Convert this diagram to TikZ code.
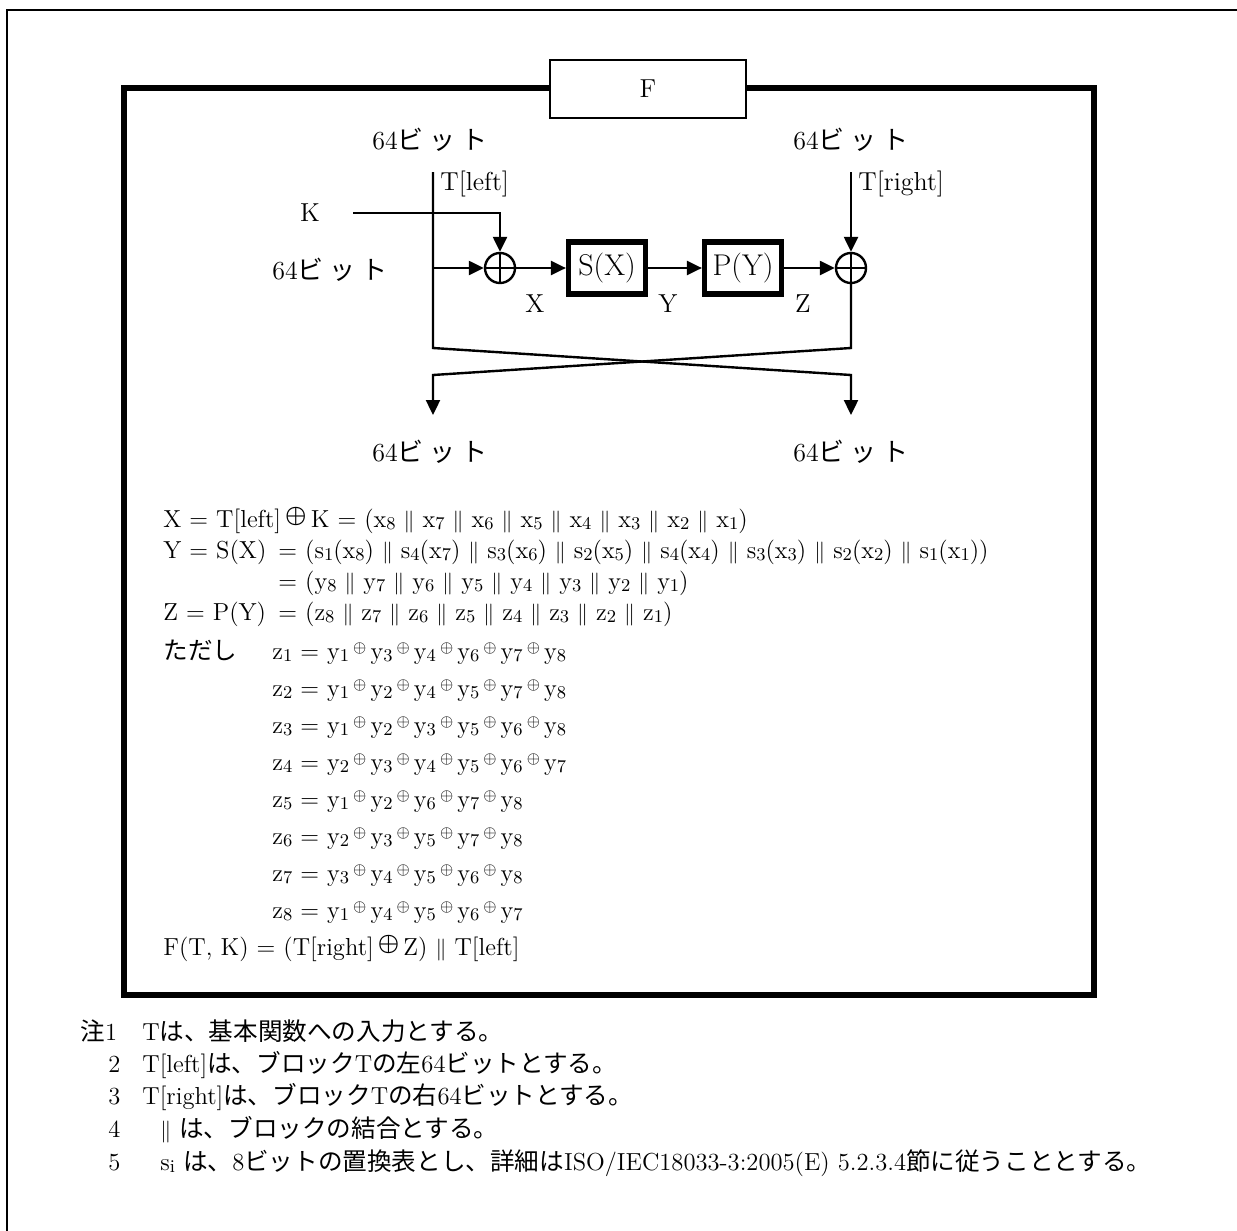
\documentclass[tikz,border=0pt]{standalone}
\usepackage{fontspec}
\usepackage{amsmath}
\newfontfamily\jp{Noto Sans CJK JP}
\usetikzlibrary{arrows.meta}
\newcommand{\mylo}[1]{\raisebox{-0.25ex}{\fontsize{9}{9}\selectfont #1}}
\newcommand{\mycat}{\ {\fontsize{10.5}{10.5}\selectfont$\|$}\ }
\newcommand{\myxo}{\,\raisebox{0.6ex}{\fontsize{8.5}{8.5}\selectfont$\oplus$}\,}
\newcommand{\mybigxo}{\,\raisebox{0.45ex}{$\boldsymbol{\oplus}$}\,}
\newcommand{\bits}{64{\jp ビ\hspace{3pt}ッ\hspace{3pt}ト}}
\begin{document}
\begin{tikzpicture}[x=0.5pt,y=-0.5pt,
  every node/.style={inner sep=0pt, font=\fontsize{12.3}{14}\selectfont},
  dl/.style={font=\fontsize{13}{15}\selectfont},
  wire/.style={line width=1.2pt},
  arr/.style={wire,-{Triangle[length=7.5pt,width=7pt]}},
  blk/.style={draw, line width=2.6pt, minimum width=38.5pt, minimum height=26pt, font=\fontsize{15}{17}\selectfont},
  xorn/.style={circle, draw, line width=1.2pt, minimum size=15pt,
    path picture={\draw[line width=1.2pt] (path picture bounding box.north) -- (path picture bounding box.south)
      (path picture bounding box.west) -- (path picture bounding box.east);}},
  lbl/.style={anchor=base west}]
\useasboundingbox (0,0) rectangle (1237,1231);
% outer frame (cut at right and bottom)
\draw[line width=1pt] (7,1231) -- (7,10) -- (1237,10);
% inner thick frame
\draw[line width=3pt] (124,88) rectangle (1094,995);
\node[draw, fill=white, line width=1pt, minimum width=98pt, minimum height=29pt, dl] (F) at (648,89) {F};

% diagram
\node[dl] (bl) at (430,140) {\bits};
\node[dl] (br) at (851,140) {\bits};
\coordinate (TL) at (433,172);
\coordinate (TR) at (851,172);
\node[dl, anchor=west] (tleft) at (440,184) {T[left]};
\node[dl, anchor=west] (tright) at (858,184) {T[right]};
\node[dl] (K) at (310,213) {K};
\coordinate (K0) at (353,213);
\node[dl] (bm) at (330,270) {\bits};
\node[xorn] (x1) at (500,268) {};
\node[xorn] (x2) at (851,268) {};
\node[blk] (S) at (607,268) {S(X)};
\node[blk] (P) at (743,268) {P(Y)};
\coordinate (J) at (433,268);
\node[dl] (lX) at (535,304) {X};
\node[dl] (lY) at (668,304) {Y};
\node[dl] (lZ) at (803,304) {Z};
\coordinate (L1) at (433,348);
\coordinate (L2) at (851,375);
\coordinate (L3) at (851,415);
\coordinate (R1) at (851,348);
\coordinate (R2) at (433,375);
\coordinate (R3) at (433,415);
\node[dl] (ol) at (430,452) {\bits};
\node[dl] (or) at (851,452) {\bits};

\draw[arr] (TL) -- (L1) -- (L2) -- (L3);
\draw[arr] (x2.south) -- (R1) -- (R2) -- (R3);
\draw[arr] (K0) -| (x1.north);
\draw[arr] (J) -- (x1.west);
\draw[arr] (x1) -- (S);
\draw[arr] (S) -- (P);
\draw[arr] (P) -- (x2);
\draw[arr] (TR) -- (x2.north);

% equations
\node[lbl] (e1) at (163,527) {X = T[left]\mybigxo K = (x\mylo8\mycat x\mylo7\mycat x\mylo6\mycat x\mylo5\mycat x\mylo4\mycat x\mylo3\mycat x\mylo2\mycat x\mylo1)};
\node[lbl] (e2a) at (163,558) {Y = S(X)};
\node[lbl] (e2b) at (278,558) {= (s\mylo1(x\mylo8)\mycat s\mylo4(x\mylo7)\mycat s\mylo3(x\mylo6)\mycat s\mylo2(x\mylo5)\mycat s\mylo4(x\mylo4)\mycat s\mylo3(x\mylo3)\mycat s\mylo2(x\mylo2)\mycat s\mylo1(x\mylo1))};
\node[lbl] (e3) at (278,589) {= (y\mylo8\mycat y\mylo7\mycat y\mylo6\mycat y\mylo5\mycat y\mylo4\mycat y\mylo3\mycat y\mylo2\mycat y\mylo1)};
\node[lbl] (e4a) at (163,620) {Z = P(Y)};
\node[lbl] (e4b) at (278,620) {= (z\mylo8\mycat z\mylo7\mycat z\mylo6\mycat z\mylo5\mycat z\mylo4\mycat z\mylo3\mycat z\mylo2\mycat z\mylo1)};
\node[lbl] (tada) at (163,659) {\jp ただし};
\node[lbl] (z1) at (272,659) {z\mylo1 = y\mylo1\myxo y\mylo3\myxo y\mylo4\myxo y\mylo6\myxo y\mylo7\myxo y\mylo8};
\node[lbl] (z2) at (272,696) {z\mylo2 = y\mylo1\myxo y\mylo2\myxo y\mylo4\myxo y\mylo5\myxo y\mylo7\myxo y\mylo8};
\node[lbl] (z3) at (272,733) {z\mylo3 = y\mylo1\myxo y\mylo2\myxo y\mylo3\myxo y\mylo5\myxo y\mylo6\myxo y\mylo8};
\node[lbl] (z4) at (272,770) {z\mylo4 = y\mylo2\myxo y\mylo3\myxo y\mylo4\myxo y\mylo5\myxo y\mylo6\myxo y\mylo7};
\node[lbl] (z5) at (272,807) {z\mylo5 = y\mylo1\myxo y\mylo2\myxo y\mylo6\myxo y\mylo7\myxo y\mylo8};
\node[lbl] (z6) at (272,844) {z\mylo6 = y\mylo2\myxo y\mylo3\myxo y\mylo5\myxo y\mylo7\myxo y\mylo8};
\node[lbl] (z7) at (272,881) {z\mylo7 = y\mylo3\myxo y\mylo4\myxo y\mylo5\myxo y\mylo6\myxo y\mylo8};
\node[lbl] (z8) at (272,918) {z\mylo8 = y\mylo1\myxo y\mylo4\myxo y\mylo5\myxo y\mylo6\myxo y\mylo7};
\node[lbl] (fe) at (163,955) {F(T, K) = (T[right]\mybigxo Z)\mycat T[left]};

% notes
\node[lbl] (n1) at (80,1040) {{\jp 注}1};
\node[lbl] (n1t) at (142,1040) {T{\jp は、基本関数への入力とする。}};
\node[lbl] (n2) at (108,1072) {2};
\node[lbl] (n2t) at (142,1072) {T[left]{\jp は、ブロック}T{\jp の左}64{\jp ビットとする。}};
\node[lbl] (n3) at (108,1104) {3};
\node[lbl] (n3t) at (142,1104) {T[right]{\jp は、ブロック}T{\jp の右}64{\jp ビットとする。}};
\node[lbl] (n4) at (108,1137) {4};
\node[lbl] (n4t) at (152,1137) {\mycat{\jp は、ブロックの結合とする。}};
\node[lbl] (n5) at (108,1170) {5};
\node[lbl] (n5t) at (160,1170) {s\mylo{i} {\jp は、}8{\jp ビットの置換表とし、詳細は}ISO/IEC18033-3:2005(E) 5.2.3.4{\jp 節に従うこととする。}};
\end{tikzpicture}
\end{document}
